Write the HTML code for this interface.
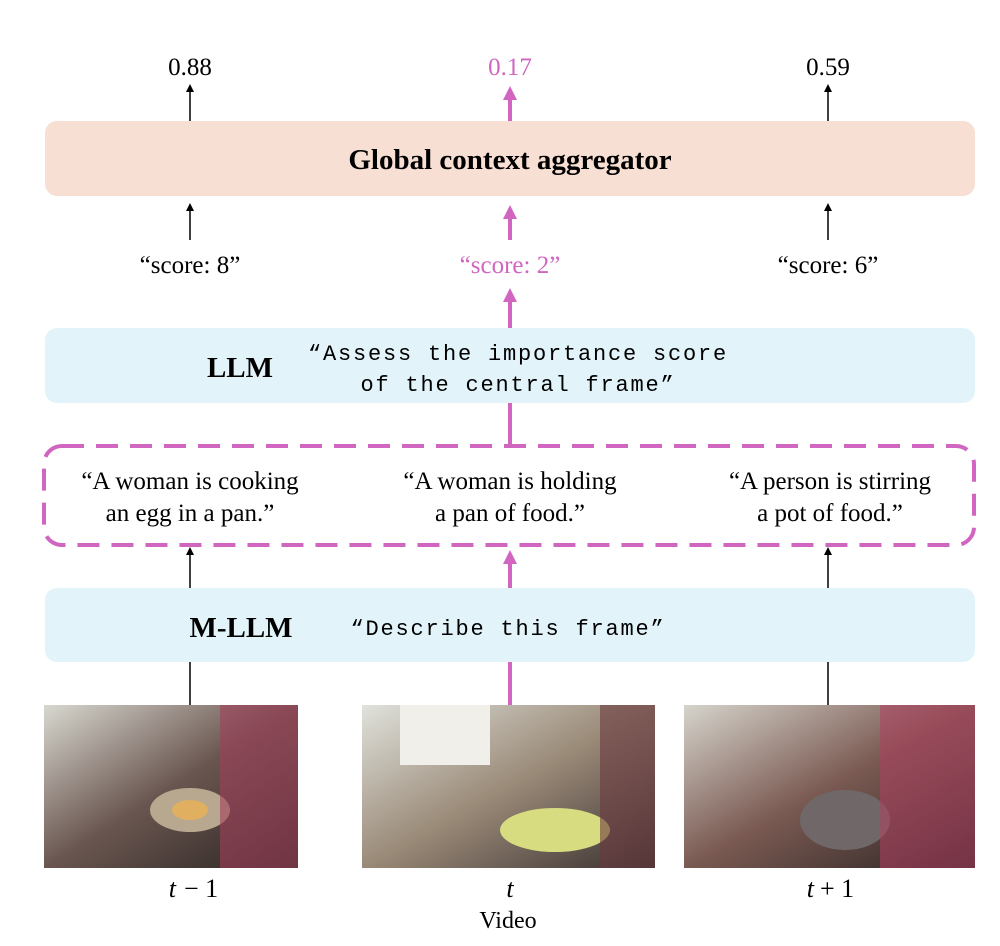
<!DOCTYPE html>
<html><head><meta charset="utf-8"><style>
html,body{margin:0;padding:0;background:#fff;}
svg{display:block;}
.s{font-family:"Liberation Serif",serif;}
.m{font-family:"Liberation Mono",monospace;letter-spacing:1.8px;}
</style></head><body>
<svg width="1000" height="946" viewBox="0 0 1000 946" xmlns="http://www.w3.org/2000/svg">
<defs>
<linearGradient id="g1" x1="0" y1="0" x2="1" y2="1"><stop offset="0" stop-color="#d8d8d0"/><stop offset=".5" stop-color="#6a5650"/><stop offset="1" stop-color="#2a2422"/></linearGradient>
<linearGradient id="g2" x1="0" y1="0" x2="1" y2="1"><stop offset="0" stop-color="#e0e2dc"/><stop offset=".5" stop-color="#9a8a78"/><stop offset="1" stop-color="#3a3030"/></linearGradient>
<linearGradient id="g3" x1="0" y1="0" x2="1" y2="1"><stop offset="0" stop-color="#d6d4cc"/><stop offset=".5" stop-color="#7a5a52"/><stop offset="1" stop-color="#2c2424"/></linearGradient>
</defs>
<text class="s" x="190" y="75" font-size="25" text-anchor="middle">0.88</text>
<text class="s" x="510" y="75" font-size="25" text-anchor="middle" fill="#d066c0">0.17</text>
<text class="s" x="828" y="75" font-size="25" text-anchor="middle">0.59</text>
<g stroke="#000" stroke-width="1.5">
<line x1="190" y1="121" x2="190" y2="90"/><line x1="828" y1="121" x2="828" y2="90"/>
<line x1="190" y1="240" x2="190" y2="209"/><line x1="828" y1="240" x2="828" y2="209"/>
<line x1="190" y1="588" x2="190" y2="552"/><line x1="828" y1="588" x2="828" y2="552"/>
<line x1="190" y1="662" x2="190" y2="705"/><line x1="828" y1="662" x2="828" y2="705"/>
</g>
<g fill="#000">
<path d="M186,92 L190,84 L194,92 Z"/><path d="M824,92 L828,84 L832,92 Z"/>
<path d="M186,211 L190,203 L194,211 Z"/><path d="M824,211 L828,203 L832,211 Z"/>
<path d="M186,555 L190,547 L194,555 Z"/><path d="M824,555 L828,547 L832,555 Z"/>
</g>
<line x1="510" y1="121" x2="510" y2="98" stroke="#d066c0" stroke-width="4"/><path d="M503,100 L510,86 L517,100 Z" fill="#d066c0"/>
<rect x="45" y="121" width="930" height="75" rx="12" fill="#f8dfd4"/>
<text class="s" x="510" y="169" font-size="29" font-weight="bold" text-anchor="middle">Global context aggregator</text>
<line x1="510" y1="240" x2="510" y2="217" stroke="#d066c0" stroke-width="4"/><path d="M503,219 L510,205 L517,219 Z" fill="#d066c0"/>
<text class="s" x="190" y="273" font-size="25" text-anchor="middle">“score: 8”</text>
<text class="s" x="510" y="273" font-size="25" text-anchor="middle" fill="#d066c0">“score: 2”</text>
<text class="s" x="828" y="273" font-size="25" text-anchor="middle">“score: 6”</text>
<line x1="510" y1="328" x2="510" y2="300" stroke="#d066c0" stroke-width="4"/><path d="M503,302 L510,288 L517,302 Z" fill="#d066c0"/>
<rect x="45" y="328" width="930" height="75" rx="12" fill="#e2f4fa"/>
<text class="s" x="240" y="377" font-size="29" font-weight="bold" text-anchor="middle">LLM</text>
<text class="m" x="518" y="360" font-size="22" text-anchor="middle">“Assess the importance score</text>
<text class="m" x="518" y="391" font-size="22" text-anchor="middle">of the central frame”</text>
<line x1="510" y1="403" x2="510" y2="446" stroke="#d066c0" stroke-width="4"/>
<rect x="44" y="446" width="930" height="99" rx="18" fill="none" stroke="#d066c0" stroke-width="4" stroke-dasharray="22,12"/>
<text class="s" x="190" y="489" font-size="25" text-anchor="middle">“A woman is cooking</text>
<text class="s" x="190" y="521" font-size="25" text-anchor="middle">an egg in a pan.”</text>
<text class="s" x="510" y="489" font-size="25" text-anchor="middle">“A woman is holding</text>
<text class="s" x="510" y="521" font-size="25" text-anchor="middle">a pan of food.”</text>
<text class="s" x="830" y="489" font-size="25" text-anchor="middle">“A person is stirring</text>
<text class="s" x="830" y="521" font-size="25" text-anchor="middle">a pot of food.”</text>
<line x1="510" y1="588" x2="510" y2="562" stroke="#d066c0" stroke-width="4"/><path d="M503,564 L510,550 L517,564 Z" fill="#d066c0"/>
<rect x="45" y="588" width="930" height="74" rx="12" fill="#e2f4fa"/>
<text class="s" x="241" y="637" font-size="29" font-weight="bold" text-anchor="middle">M-LLM</text>
<text class="m" x="508" y="635" font-size="22" text-anchor="middle">“Describe this frame”</text>
<line x1="510" y1="662" x2="510" y2="705" stroke="#d066c0" stroke-width="4"/>
<rect x="44" y="705" width="254" height="163" fill="url(#g1)"/>
<ellipse cx="190" cy="810" rx="40" ry="22" fill="#b8a890"/><ellipse cx="190" cy="810" rx="18" ry="10" fill="#e0b060"/>
<rect x="220" y="705" width="78" height="163" fill="#a0405a" opacity=".6"/>
<rect x="362" y="705" width="293" height="163" fill="url(#g2)"/>
<rect x="400" y="705" width="90" height="60" fill="#f0efea"/>
<ellipse cx="555" cy="830" rx="55" ry="22" fill="#d8dc80"/>
<rect x="600" y="705" width="55" height="163" fill="#6a3a40" opacity=".6"/>
<rect x="684" y="705" width="291" height="163" fill="url(#g3)"/>
<ellipse cx="845" cy="820" rx="45" ry="30" fill="#706868"/>
<rect x="880" y="705" width="95" height="163" fill="#b04060" opacity=".55"/>
<text class="s" x="176" y="897" font-size="26" font-style="italic" text-anchor="end">t</text>
<text class="s" x="184" y="897" font-size="26">− 1</text>
<text class="s" x="510" y="897" font-size="26" font-style="italic" text-anchor="middle">t</text>
<text class="s" x="814" y="897" font-size="26" font-style="italic" text-anchor="end">t</text>
<text class="s" x="820" y="897" font-size="26">+ 1</text>
<text class="s" x="508" y="928" font-size="24" text-anchor="middle">Video</text>
</svg>
</body></html>
